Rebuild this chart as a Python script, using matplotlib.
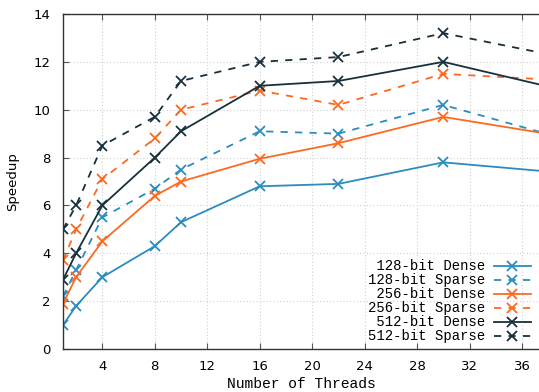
import matplotlib
matplotlib.use("Agg")
import matplotlib.pyplot as plt

threads = [1, 2, 4, 8, 10, 16, 22, 30, 40]
d128 = [1.0, 1.8, 3.0, 4.3, 5.3, 6.8, 6.9, 7.8, 7.32]
s128 = [2.2, 3.3, 5.5, 6.7, 7.5, 9.1, 9.0, 10.2, 8.67]
d256 = [1.9, 3.0, 4.5, 6.4, 7.0, 7.95, 8.6, 9.7, 8.81]
s256 = [3.7, 5.0, 7.1, 8.8, 10.0, 10.8, 10.2, 11.5, 11.2]
d512 = [2.9, 4.0, 6.0, 8.0, 9.1, 11.0, 11.2, 12.0, 10.71]
s512 = [5.0, 6.0, 8.5, 9.7, 11.2, 12.0, 12.2, 13.2, 12.1]
labels = ["128-bit Dense", "128-bit Sparse", "256-bit Dense",
          "256-bit Sparse", "512-bit Dense", "512-bit Sparse"]
xticks = [4, 8, 12, 16, 20, 24, 28, 32, 36]
yticks = [0, 2, 4, 6, 8, 10, 12, 14]

blue = "#2b8cbe"
orange = "#fb6a22"
dark = "#17303c"

fig = plt.figure(figsize=(5.39, 3.92), dpi=100)
ax = fig.add_axes([63/539, 1-349/392, 1-63/539, (349-14)/392])

series = [(d128, blue, "-"), (s128, blue, (0, (4, 4))),
          (d256, orange, "-"), (s256, orange, (0, (4, 4))),
          (d512, dark, "-"), (s512, dark, (0, (4, 4)))]
for (vals, col, ls), lab in zip(series, labels):
    ax.plot(threads, vals, color=col, linestyle=ls, linewidth=1.3,
            marker="x", markersize=7, markeredgewidth=1.3,
            label=lab.rjust(14))

ax.set_xlim(1, 37.3)
ax.set_ylim(0, 14)
ax.set_xticks(xticks)
ax.set_yticks(yticks)
ax.tick_params(direction="in", top=True, right=False, length=4,
               labelsize=9.5, color="#555555")
ax.tick_params(axis="y", pad=9)
ax.tick_params(axis="x", pad=8)
for lbl in ax.get_xticklabels() + ax.get_yticklabels():
    lbl.set_family("DejaVu Sans")
ax.grid(True, linestyle=(0, (1, 2)), color="#d0d0d0", linewidth=0.8)
for s in ["left", "bottom", "top"]:
    ax.spines[s].set_color("#333333")
    ax.spines[s].set_linewidth(1.0)
ax.spines["right"].set_visible(False)

ax.set_xlabel("Number of Threads", family="Liberation Mono", fontsize=10.5,
              labelpad=3)
ax.set_ylabel("Speedup", family="DejaVu Sans", fontsize=9.5, labelpad=10)

leg = ax.legend(loc="lower right", frameon=False, markerfirst=False,
                prop={"family": "Liberation Mono", "size": 10},
                labelspacing=0.0, handlelength=2.7, handletextpad=0.6,
                borderaxespad=0.0, bbox_to_anchor=(0.995, 0.0))

fig.savefig("out.png", dpi=100)
